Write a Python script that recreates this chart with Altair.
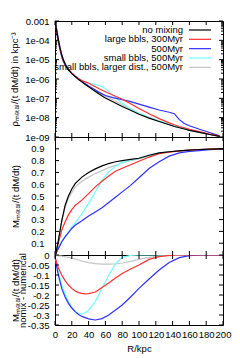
import altair as alt
import pandas as pd

# ---------------- data ----------------
SERIES = ["no mixing", "large bbls, 300Myr", "500Myr", "small bbls, 500Myr",
          "small bbls, larger dist., 500Myr"]
COLORS = ["#000000", "#ff3030", "#3030ff", "#70ffff", "#c4c4c4"]
DRAW_ORDER = [4, 3, 2, 1, 0]

# top panel: rho_metal/(t dM/dt)
R_TOP = [1, 2, 4, 6, 8, 10, 13, 16, 20, 24, 28, 32, 36, 40, 46, 52, 60, 70, 80, 90,
         100, 112, 124, 136, 142, 148, 154, 160, 172, 184, 196]
TOP_BLACK = [5.0e-4, 3.5e-4, 1.1e-4, 4.0e-5, 1.8e-5, 9.5e-6, 5.0e-6, 3.0e-6, 1.9e-6, 1.35e-6,
             9.5e-7, 7.1e-7, 5.2e-7, 4.0e-7, 2.6e-7, 1.75e-7, 1.05e-7, 6.3e-8, 3.8e-8, 2.4e-8,
             1.5e-8, 9.5e-9, 6.3e-9, 4.3e-9, 3.5e-9, 3.0e-9, 2.6e-9, 2.2e-9, 1.75e-9, 1.35e-9, 1.07e-9]
TOP_RED = [5.0e-4, 3.2e-4, 1.0e-4, 3.5e-5, 1.6e-5, 8.9e-6, 5.0e-6, 3.2e-6, 2.0e-6, 1.4e-6,
           1.05e-6, 8.3e-7, 7.1e-7, 6.0e-7, 4.5e-7, 3.2e-7, 2.2e-7, 1.4e-7, 8.9e-8, 5.2e-8,
           3.0e-8, 1.6e-8, 8.9e-9, 5.4e-9, 4.3e-9, 3.5e-9, 3.0e-9, 2.5e-9, 1.9e-9, 1.4e-9, 1.1e-9]
TOP_BLUE = [2.8e-4, 2.2e-4, 7.9e-5, 3.2e-5, 1.4e-5, 7.9e-6, 4.5e-6, 3.0e-6, 2.0e-6, 1.4e-6,
            1.0e-6, 7.6e-7, 5.6e-7, 4.3e-7, 3.0e-7, 2.1e-7, 1.4e-7, 1.05e-7, 8.5e-8, 6.8e-8,
            5.0e-8, 3.5e-8, 2.5e-8, 1.9e-8, 1.6e-8, 7.9e-9, 5.0e-9, 3.8e-9, 2.5e-9, 1.7e-9, 1.15e-9]
TOP_CYAN = [5.0e-4, 3.5e-4, 1.1e-4, 4.0e-5, 1.8e-5, 1.0e-5, 5.2e-6, 3.2e-6, 2.0e-6, 1.4e-6,
            1.05e-6, 8.3e-7, 7.1e-7, 6.3e-7, 5.6e-7, 4.8e-7, 3.2e-7, 1.3e-7, 5.6e-8, 2.8e-8,
            1.7e-8, 1.0e-8, 6.6e-9, 4.5e-9, 3.7e-9, 3.2e-9, 2.7e-9, 2.3e-9, 1.8e-9, 1.4e-9, 1.07e-9]
TOP_GREY = [5.6e-4, 4.0e-4, 1.26e-4, 4.5e-5, 2.0e-5, 1.05e-5, 5.4e-6, 3.2e-6, 2.0e-6, 1.38e-6,
            1.0e-6, 7.4e-7, 5.6e-7, 4.4e-7, 3.0e-7, 2.1e-7, 1.3e-7, 7.9e-8, 4.7e-8, 2.8e-8,
            1.7e-8, 1.05e-8, 6.6e-9, 4.4e-9, 3.6e-9, 3.1e-9, 2.6e-9, 2.3e-9, 1.75e-9, 1.35e-9, 1.07e-9]

# middle panel: M_metal/(t dM/dt)
R_MID = [1, 2, 4, 8, 12, 16, 20, 24, 32, 40, 48, 56, 64, 72, 80, 90, 100, 112, 124, 136,
         148, 160, 172, 184, 196, 200]
MID_BLACK = [0.01, 0.05, 0.125, 0.29, 0.42, 0.50, 0.56, 0.605, 0.66, 0.70, 0.73, 0.755, 0.775,
             0.79, 0.80, 0.81, 0.82, 0.845, 0.866, 0.875, 0.883, 0.889, 0.894, 0.897, 0.90, 0.90]
MID_RED = [0.01, 0.04, 0.10, 0.21, 0.28, 0.34, 0.385, 0.42, 0.465, 0.52, 0.577, 0.625, 0.67,
           0.71, 0.735, 0.765, 0.795, 0.83, 0.858, 0.872, 0.882, 0.889, 0.894, 0.897, 0.90, 0.90]
MID_BLUE = [0.005, 0.025, 0.054, 0.11, 0.153, 0.19, 0.225, 0.252, 0.29, 0.33, 0.365, 0.40, 0.445,
            0.49, 0.535, 0.59, 0.655, 0.733, 0.79, 0.838, 0.866, 0.878, 0.885, 0.892, 0.898, 0.90]
MID_CYAN = [0.005, 0.03, 0.068, 0.12, 0.153, 0.19, 0.238, 0.27, 0.35, 0.435, 0.535, 0.634, 0.705,
            0.753, 0.785, 0.805, 0.82, 0.845, 0.866, 0.875, 0.883, 0.889, 0.894, 0.897, 0.90, 0.90]
MID_GREY = [0.01, 0.05, 0.12, 0.28, 0.40, 0.48, 0.53, 0.575, 0.625, 0.66, 0.69, 0.715, 0.74,
            0.76, 0.78, 0.80, 0.815, 0.84, 0.864, 0.874, 0.883, 0.889, 0.894, 0.897, 0.90, 0.90]

# bottom panel: nomix - numerical
R_BOT = [1, 2, 4, 8, 12, 16, 20, 24, 28, 32, 36, 40, 48, 56, 64, 72, 80, 90, 100, 112, 124,
         136, 148, 160, 172, 184, 200]
BOT_RED = [-0.02, -0.04, -0.065, -0.10, -0.128, -0.15, -0.167, -0.18, -0.188, -0.192, -0.194,
           -0.193, -0.185, -0.163, -0.14, -0.115, -0.092, -0.07, -0.05, -0.022, -0.008, -0.002,
           0.0, 0.0, 0.0, 0.0, 0.0]
BOT_BLUE = [-0.03, -0.058, -0.10, -0.167, -0.21, -0.242, -0.265, -0.283, -0.297, -0.307, -0.313,
            -0.319, -0.325, -0.318, -0.30, -0.275, -0.25, -0.21, -0.167, -0.12, -0.075, -0.037,
            -0.013, -0.003, 0.0, 0.0, 0.0]
BOT_CYAN = [-0.025, -0.05, -0.085, -0.15, -0.195, -0.233, -0.262, -0.283, -0.293, -0.295, -0.288,
            -0.275, -0.233, -0.167, -0.10, -0.045, -0.012, -0.002, 0.0, 0.0, 0.0, 0.0, 0.0, 0.0,
            0.0, 0.0, 0.0]
BOT_GREY = [-0.002, -0.003, -0.004, -0.006, -0.009, -0.012, -0.015, -0.02, -0.025, -0.03, -0.034,
            -0.038, -0.043, -0.046, -0.046, -0.045, -0.04, -0.032, -0.022, -0.012, -0.006, -0.003,
            -0.001, 0.0, 0.0, 0.0, 0.0]

X_TICKS = [0, 20, 40, 60, 80, 100, 120, 140, 160, 180, 200]
TOP_TICKS = [1e-9, 1e-8, 1e-7, 1e-6, 1e-5, 1e-4, 1e-3]
TOP_MINOR = [m * d for d in [1e-9, 1e-8, 1e-7, 1e-6, 1e-5, 1e-4] for m in [2, 3, 4, 5, 6, 7, 8, 9]]
MID_TICKS = [0.1, 0.2, 0.3, 0.4, 0.5, 0.6, 0.7, 0.8, 0.9]
BOT_TICKS = [0, -0.05, -0.1, -0.15, -0.2, -0.25, -0.3, -0.35]

FONT = "Liberation Sans"
W = 168
XSCALE = alt.Scale(domain=[0, 200], nice=False, zero=False)


def panel(r, values, yscale, yaxis, xaxis, height, yticks, minor=None):
    X = lambda: alt.X("R:Q", scale=XSCALE, axis=xaxis)
    Y = lambda: alt.Y("v:Q", scale=yscale, axis=yaxis)
    layers = []
    for i in DRAW_ORDER:
        if values[i] is None:
            continue
        df = pd.DataFrame({"R": r, "v": values[i]})
        layers.append(alt.Chart(df).mark_line(color=COLORS[i], strokeWidth=1.2, clip=True).encode(
            x=X(), y=Y()))
    # inward ticks (gnuplot style), drawn through the same scales
    xd = pd.DataFrame({"R": X_TICKS})
    for y0, y1 in [(height, height - 4), (0, 4)]:
        layers.append(alt.Chart(xd).mark_rule(color="black", strokeWidth=1).encode(
            x=X(), y=alt.value(y0), y2=alt.value(y1)))
    tick_sets = [(yticks, 4)]
    if minor is not None:
        tick_sets.append((minor, 2))
    for tv, ln in tick_sets:
        yd = pd.DataFrame({"v": tv})
        for x0, x1 in [(0, ln), (W - ln, W)]:
            layers.append(alt.Chart(yd).mark_rule(color="black", strokeWidth=1).encode(
                y=Y(), x=alt.value(x0), x2=alt.value(x1)))
    return layers


# ---- top panel ----
top_scale = alt.Scale(type="log", domain=[1e-9, 1e-3], nice=False)
top_axis = alt.Axis(values=TOP_TICKS, labelOverlap=False,
                    labelExpr="datum.value >= 0.001 ? '0.001' : '1e-0' + round(-log(datum.value)/LN10)",
                    title="ρₘₑₜₐₗ/(t dM/dt) in kpc⁻³", titleX=-36, titleY=58, labelPadding=6)
x_hidden = alt.Axis(values=X_TICKS, labels=False, title=None)
top_layers = panel(R_TOP, [TOP_BLACK, TOP_RED, TOP_BLUE, TOP_CYAN, TOP_GREY],
                   top_scale, top_axis, x_hidden, 116, TOP_TICKS, TOP_MINOR)
for i, name in enumerate(SERIES):
    yy = 9 + 9.33 * i
    ld = pd.DataFrame({"s": [name]})
    top_layers.append(alt.Chart(ld).mark_text(align="right", baseline="middle", fontSize=9.5,
                                              font=FONT, color="black").encode(
        text="s:N", x=alt.value(128), y=alt.value(yy)))
    top_layers.append(alt.Chart(ld).mark_rule(color=COLORS[i], strokeWidth=1.2).encode(
        x=alt.value(134), x2=alt.value(156), y=alt.value(yy)))
top = alt.layer(*top_layers).properties(width=W, height=116)

# ---- middle panel ----
mid_scale = alt.Scale(domain=[0, 1.0], nice=False, zero=False)
mid_axis = alt.Axis(values=MID_TICKS, labelExpr="'' + datum.value", labelOverlap=False,
                    title="Mₘₑₜₐₗ/(t dM/dt)", titleX=-35, titleY=59, labelPadding=11)
mid = alt.layer(*panel(R_MID, [MID_BLACK, MID_RED, MID_BLUE, MID_CYAN, MID_GREY],
                       mid_scale, mid_axis, x_hidden, 118, MID_TICKS)).properties(width=W, height=118)

# ---- bottom panel ----
bot_scale = alt.Scale(domain=[-0.35, 0], nice=False, zero=False)
bot_axis = alt.Axis(values=BOT_TICKS, labelExpr="'' + datum.value", labelOverlap=False,
                    title=["Mₘₑₜₐₗ/(t dM/dt)", "nomix - numerical"], titleX=-45, titleY=35,
                    titleBaseline="top", titleLineHeight=7.5, labelPadding=6)
x_axis = alt.Axis(values=X_TICKS, labelExpr="'' + datum.value", labelFlush=False,
                  labelOverlap=False, title="R/kpc", labelPadding=4, titlePadding=5)
bot = alt.layer(*panel(R_BOT, [None, BOT_RED, BOT_BLUE, BOT_CYAN, BOT_GREY],
                       bot_scale, bot_axis, x_axis, 70, BOT_TICKS)).properties(width=W, height=70)

chart = alt.vconcat(top, mid, bot, spacing=0, bounds="flush").properties(
    padding={"left": 0, "top": 7, "right": 0, "bottom": 0},
).configure_view(stroke="black", strokeWidth=1).configure_axis(
    domain=False, ticks=False, grid=False, labelOverlap=False, labelBound=False,
    labelFont=FONT, labelFontSize=9.5, labelColor="black",
    titleFont=FONT, titleFontSize=9.5, titleFontWeight="normal", titleColor="black",
).configure_concat(spacing=0)

chart.save("out.html", embed_options={"renderer": "svg", "actions": False})
